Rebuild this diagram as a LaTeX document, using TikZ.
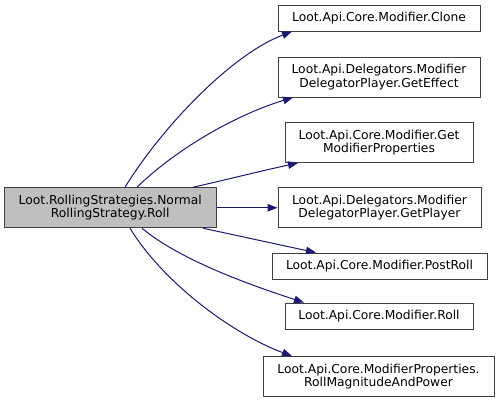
\documentclass[tikz,border=0pt]{standalone}
\usepackage{fontspec}
\setmainfont{DejaVu Sans}
\usetikzlibrary{arrows.meta}
\definecolor{edgeblue}{HTML}{191970}
\definecolor{boxborder}{HTML}{404040}
\definecolor{mainfill}{HTML}{BFBFBF}
\tikzset{
  fn/.style={draw=boxborder, line width=1pt, fill=white, align=center, inner sep=0pt,
    font=\fontsize{12.3}{13.3}\selectfont, text=black},
  one/.style={fn, minimum height=26pt},
  two/.style={fn, minimum height=40pt},
  call/.style={draw=edgeblue, line width=1pt, -{Triangle[length=10pt,width=7.5pt]}, edgeblue},
}
\begin{document}
\begin{tikzpicture}[x=1pt,y=-1pt]
\useasboundingbox (0,0) rectangle (500,402);
\node[two, fill=mainfill, minimum width=211.5pt] (main) at (110.25,207.75) {Loot.RollingStrategies.Normal\\RollingStrategy.Roll};
\node[one, minimum width=202pt] (clone) at (379,18) {Loot.Api.Core.Modifier.Clone};
\node[two, minimum width=202pt] (geteffect) at (379,77) {Loot.Api.Delegators.Modifier\\DelegatorPlayer.GetEffect};
\node[two, minimum width=188pt] (gmp) at (379,142.5) {Loot.Api.Core.Modifier.Get\\ModifierProperties};
\node[two, minimum width=203pt] (getplayer) at (379.5,207.75) {Loot.Api.Delegators.Modifier\\DelegatorPlayer.GetPlayer};
\node[one, minimum width=215pt] (postroll) at (379.5,266) {Loot.Api.Core.Modifier.PostRoll};
\node[one, minimum width=188pt] (roll) at (379,316) {Loot.Api.Core.Modifier.Roll};
\node[two, minimum width=231pt] (rollmag) at (378.5,376.5) {Loot.Api.Core.ModifierProperties.\\RollMagnitudeAndPower};

\draw[call] ([xshift=14.75pt]main.north) .. controls (160,130) and (230,55) .. ([xshift=-87pt]clone.south);
\draw[call] ([xshift=26.75pt]main.north) .. controls (175,150) and (235,115) .. ([xshift=-86pt]geteffect.south);
\draw[call] ([xshift=82.75pt]main.north) .. controls (225,180) and (265,170) .. ([xshift=-81pt]gmp.south);
\draw[call] (main.east) -- (getplayer.west);
\draw[call] ([xshift=92.75pt]main.south) .. controls (235,235) and (280,245) .. ([xshift=-63.5pt]postroll.north);
\draw[call] ([xshift=31.75pt]main.south) .. controls (180,260) and (250,285) .. ([xshift=-75pt]roll.north);
\draw[call] ([xshift=19.75pt]main.south) .. controls (165,285) and (235,335) .. ([xshift=-86.5pt]rollmag.north);
\end{tikzpicture}
\end{document}
